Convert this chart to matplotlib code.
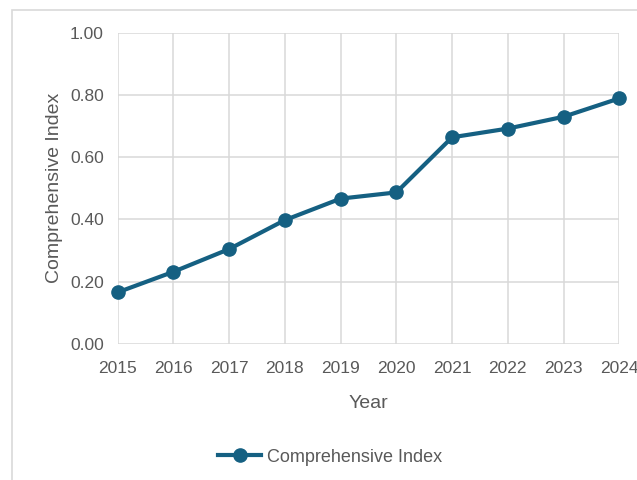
import matplotlib.pyplot as plt
from matplotlib.patches import Rectangle

# datos
years = [2015, 2016, 2017, 2018, 2019, 2020, 2021, 2022, 2023, 2024]
index_vals = [0.166, 0.232, 0.305, 0.398, 0.467, 0.487, 0.664, 0.692, 0.730, 0.789]
y_ticks = [0.0, 0.2, 0.4, 0.6, 0.8, 1.0]

plt.rcParams['font.family'] = ['Liberation Sans', 'DejaVu Sans']
txt = '#595959'
grid = '#d9d9d9'
azul = '#156082'

fig = plt.figure(figsize=(6.37, 4.80), dpi=100)
ax = fig.add_axes([117.7/637, 1-344/480, (619.3-117.7)/637, (344-32.7)/480])

# marco del grafico (recortado a la derecha y abajo)
fig.patches.append(Rectangle((12/637, -0.1), 1.0, 1-10/480+0.1, transform=fig.transFigure,
                             fill=False, edgecolor=grid, linewidth=1.2))

ax.plot(years, index_vals, color=azul, linewidth=3.0, marker='o', markersize=9.5,
        label='Comprehensive Index', clip_on=False, zorder=3)

ax.set_xlim(years[0], years[-1])
ax.set_ylim(0, 1)
ax.set_xticks(years)
ax.set_yticks(y_ticks)
ax.set_yticklabels(['%.2f' % v for v in y_ticks])
ax.grid(True, color=grid, linewidth=1.1)
ax.set_axisbelow(True)
for s in ax.spines.values():
    s.set_visible(False)
ax.tick_params(length=0, labelsize=12.5, colors=txt)
ax.tick_params(axis='y', pad=10)
ax.tick_params(axis='x', pad=12)

ax.set_xlabel('Year', fontsize=14, color=txt, labelpad=14)
ax.set_ylabel('Comprehensive Index', fontsize=14, color=txt, labelpad=5)

leg = fig.legend(loc='center', bbox_to_anchor=(330/637, 1-457/480), frameon=False,
                 fontsize=13, handlelength=2.4, handletextpad=0.3)
for t in leg.get_texts():
    t.set_color(txt)

fig.savefig('out.png', dpi=100)
